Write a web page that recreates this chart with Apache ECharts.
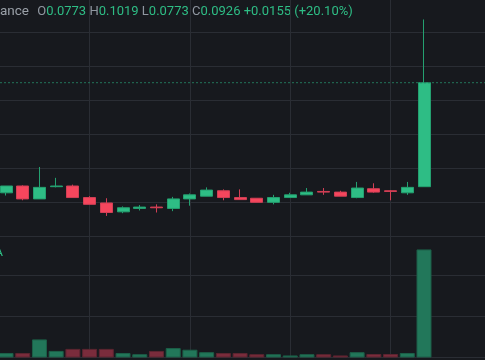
<!DOCTYPE html>
<html><head><meta charset="utf-8">
<script src="https://cdn.jsdelivr.net/npm/echarts@6/dist/echarts.min.js"></script>
<style>html,body{margin:0;padding:0;background:#17191e;}#c{width:485px;height:360px;}</style>
</head><body><div id="c"></div>
<script>
// OHLC per candle (left to right)
const opens  = [0.0764,0.0774,0.0755,0.0773,0.0774,0.0757,0.0749,0.0736,0.0741,0.0743,0.0741,0.0755,0.0759,0.0767,0.0757,0.0756,0.0750,0.0757,0.0761,0.0766,0.0765,0.0757,0.0770,0.0767,0.0764,0.0773];
const closes = [0.0774,0.0755,0.0772,0.0774,0.0757,0.0747,0.0735,0.0742,0.0743,0.0742,0.0755,0.0761,0.0768,0.0757,0.0754,0.0750,0.0757,0.0761,0.0765,0.0765,0.0759,0.0771,0.0765,0.0766,0.0772,0.0926];
const lows   = [0.0760,0.0753,0.0755,0.0772,0.0757,0.0747,0.0730,0.0734,0.0738,0.0735,0.0737,0.0745,0.0759,0.0753,0.0754,0.0750,0.0747,0.0757,0.0761,0.0761,0.0759,0.0756,0.0764,0.0753,0.0761,0.0773];
const highs  = [0.0774,0.0775,0.0802,0.0786,0.0776,0.0759,0.0756,0.0744,0.0746,0.0747,0.0758,0.0763,0.0772,0.0769,0.0769,0.0756,0.0761,0.0764,0.0771,0.0771,0.0767,0.0780,0.0778,0.0768,0.0780,0.1019];
// volume (millions)
const volumes = [1.1,1.1,4.4,1.6,2.1,2.1,2.1,1.1,0.8,1.6,2.3,1.9,1.3,1.1,1.1,0.8,0.8,0.5,0.8,0.8,0.5,1.3,0.85,0.85,1.1,26.3];
// header labels
const headerSource = 'ance';
const lastO = '0.0773', lastH = '0.1019', lastL = '0.0773', lastC = '0.0926', lastChg = '+0.0155', lastPct = '(+20.10%)';

const UP = '#2ebd85', DOWN = '#f6465d';
const chart = echarts.init(document.getElementById('c'), null, {renderer: 'canvas'});
const candleData = opens.map((o, i) => [i, o, closes[i], lows[i], highs[i]]);
const volData = volumes.map((v, i) => ({
  value: [i, v],
  itemStyle: closes[i] >= opens[i]
    ? {color: '#22775a', borderColor: '#1c5f48'}
    : {color: '#7a2c3c', borderColor: '#5c2430'}
}));
const lastClose = closes[closes.length - 1];
const gridLine = {show: true, showMaxLine: false, lineStyle: {color: '#2a2d34', width: 1}};
const noLine = {show: false};
const hidden = {axisLine: {show: false}, axisTick: {show: false}, axisLabel: {show: false}};
const X_MIN = -0.359, X_MAX = 28.648;

chart.setOption({
  backgroundColor: '#17191e',
  animation: false,
  grid: [
    {left: 0, right: 0, top: 0, bottom: 123.7},
    {left: 0, right: 0, top: 234.2, bottom: 2.5},
    {left: 89.6, right: 0, top: 0, bottom: 2.5}
  ],
  xAxis: [
    Object.assign({type: 'value', gridIndex: 0, min: X_MIN, max: X_MAX, splitLine: noLine}, hidden),
    Object.assign({type: 'value', gridIndex: 1, min: X_MIN, max: X_MAX, splitLine: noLine}, hidden),
    Object.assign({type: 'value', gridIndex: 2, min: 0, max: X_MAX - 5, interval: 6, splitLine: gridLine}, hidden)
  ],
  yAxis: [
    Object.assign({type: 'value', gridIndex: 0, min: 0.070, max: 0.104766, interval: 0.005, splitLine: gridLine}, hidden),
    Object.assign({type: 'value', gridIndex: 1, min: 0, max: 30, interval: 10, splitLine: gridLine}, hidden),
    Object.assign({type: 'value', gridIndex: 2, min: 0, max: 1, splitLine: noLine}, hidden)
  ],
  series: [
    {
      type: 'bar', xAxisIndex: 1, yAxisIndex: 1, barWidth: 15,
      itemStyle: {borderWidth: 1},
      data: volData
    },
    {
      // last price line
      type: 'line', xAxisIndex: 0, yAxisIndex: 0, symbol: 'none', silent: true,
      lineStyle: {type: [2, 2], color: '#23755a', width: 1},
      data: [[X_MIN, lastClose], [X_MAX, lastClose]]
    },
    {
      type: 'candlestick', xAxisIndex: 0, yAxisIndex: 0, barWidth: 12.5,
      itemStyle: {color: UP, color0: DOWN, borderColor: '#24a070', borderColor0: '#d23f55', borderWidth: 1},
      data: candleData
    }
  ],
  graphic: [
    {
      type: 'text', x: 0, y: 12,
      style: {
        text: '{a|' + headerSource + '} {g|O}{v|' + lastO + '} {g|H}{v|' + lastH + '} {g|L}{v|' + lastL + '} {g|C}{v|' + lastC + '} {v|' + lastChg + ' ' + lastPct + '}',
        fontFamily: 'Roboto', fontSize: 13, verticalAlign: 'middle',
        rich: {
          a: {fill: '#9aa0a8', fontFamily: 'Roboto', fontSize: 13.5, padding: [0, 5, 0, 0]},
          g: {fill: '#9097a1', fontFamily: 'Roboto', fontSize: 13},
          v: {fill: UP, fontFamily: 'Roboto', fontSize: 13}
        }
      }
    },
    {
      type: 'text', x: -5.5, y: 252.5,
      style: {text: 'A', fill: UP, fontFamily: 'Roboto', fontSize: 13, verticalAlign: 'middle'}
    }
  ]
});
</script></body></html>
